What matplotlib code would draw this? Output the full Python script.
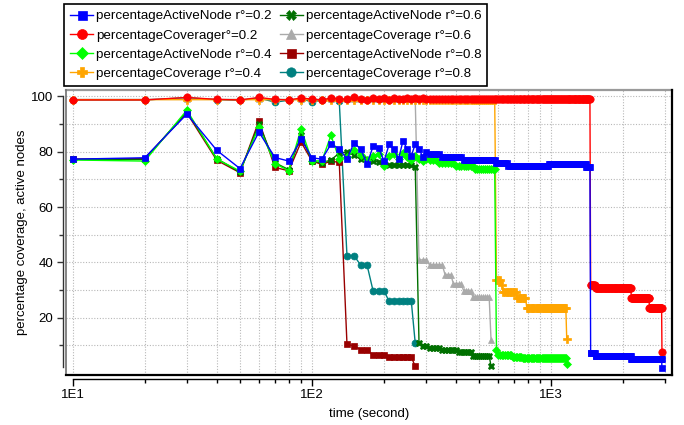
import matplotlib.pyplot as plt
import numpy as np
from matplotlib.ticker import FixedLocator, FuncFormatter, LogLocator, NullFormatter

plt.rcParams["font.family"] = ["Liberation Sans", "DejaVu Sans"]

STEP = 10  # the log is sampled every 10 s

# fluctuating phase: one value per 10 s, starting at t = 10 s
an02_early = [77.3, 77.8, 93.6, 80.5, 73.9, 87.1, 77.9, 76.6, 84.5, 77.8,
              77.3, 82.7, 81.1, 77.3, 83.3, 80.8, 75.5, 82.0, 81.3, 76.6,
              82.6, 80.9, 77.4, 83.9, 80.9, 78.5, 82.7, 81.1, 78.1, 79.9]
cov02_early = [98.7, 98.7, 99.6, 98.9, 98.7, 99.6, 98.9, 98.7, 99.4, 99.0,
               98.7, 99.4, 99.2, 98.9, 99.6, 99.1, 98.7, 99.4, 99.0, 99.3,
               98.8, 99.5, 99.2, 99.0, 99.4, 99.1, 99.3, 99.0, 99.4, 99.2]
an04_early = [77.0, 76.6, 95.0, 77.3, 73.0, 88.9, 75.7, 73.1, 88.3, 76.7,
              76.7, 85.9, 77.3, 78.0, 80.5, 78.7, 76.9, 78.6, 79.0, 75.0,
              78.5, 79.0, 77.5, 79.5, 78.0, 77.0, 78.5, 77.5, 76.5, 77.5]
an06_early = [77.2, 77.2, 94.5, 77.5, 72.6, 90.0, 76.0, 73.5, 86.0, 76.5,
              76.0, 77.0, 79.5, 79.9, 78.7, 77.2, 77.5, 76.6, 76.3, 75.7]
an08_early = [77.3, 77.5, 94.0, 76.9, 72.4, 91.1, 74.3, 73.1, 83.5, 76.6,
              75.4, 76.6, 76.1]
cov08_early = [98.7, 98.7, 99.5, 98.8, 98.6, 99.4, 97.9, 98.6, 99.1, 98.0,
               98.6, 99.0, 98.2]

# plateaus after that: (first time, last time, value)
an02_steps = [(310, 340, 79.3), (350, 420, 78.1), (430, 580, 76.9), (590, 650, 76.0),
              (660, 970, 74.8), (980, 1390, 75.5), (1400, 1450, 74.6),
              (1460, 1520, 7.1), (1530, 2150, 6.3), (2160, 2890, 5.1), (2900, 2900, 1.7)]
cov02_steps = [(310, 1450, 99.2), (1460, 1520, 31.8), (1530, 2150, 30.6),
               (2160, 2560, 27.0), (2570, 2890, 23.6), (2900, 2900, 7.7)]
an04_steps = [(310, 330, 76.9), (340, 390, 76.0), (400, 470, 74.9), (480, 580, 73.9),
              (590, 590, 8.2), (600, 680, 6.7), (690, 750, 5.8), (760, 1150, 5.3),
              (1160, 1160, 3.1)]
cov04_steps = [(10, 580, 98.8), (590, 610, 33.6), (620, 620, 31.9), (630, 710, 29.2),
               (720, 780, 27.3), (790, 1150, 23.5), (1160, 1160, 12.3)]
an06_steps = [(210, 260, 75.1), (270, 270, 74.5), (280, 280, 10.9), (290, 300, 9.7),
              (310, 340, 9.1), (350, 400, 8.4), (410, 460, 7.5), (470, 550, 6.3),
              (560, 560, 2.4)]
cov06_steps = [(10, 270, 98.9), (280, 300, 40.9), (310, 350, 39.1), (360, 380, 35.5),
               (390, 420, 32.3), (430, 460, 29.8), (470, 550, 27.5), (560, 560, 11.8)]
an08_steps = [(140, 140, 10.5), (150, 150, 9.7), (160, 170, 8.5), (180, 200, 6.4),
              (210, 260, 5.8), (270, 270, 2.4)]
cov08_steps = [(140, 150, 42.4), (160, 170, 38.9), (180, 200, 29.7), (210, 260, 25.9),
               (270, 270, 10.8)]

labels = ["percentageActiveNode r°=0.2", "percentageCoverager°=0.2",
          "percentageActiveNode r°=0.4", "percentageCoverage r°=0.4",
          "percentageActiveNode r°=0.6", "percentageCoverage r°=0.6",
          "percentageActiveNode r°=0.8", "percentageCoverage r°=0.8"]
colors = ["#0000ff", "#ff0000", "#00ff00", "#ffa500",
          "#007000", "#aaaaaa", "#990000", "#008080"]
markers = ["s", "o", "D", "P", "X", "^", "s", "o"]
msizes = [4.8, 5.3, 4.2, 5.3, 5.0, 5.0, 4.8, 5.0]


def expand(early, steps):
    t = [STEP * (i + 1) for i in range(len(early))]
    v = list(early)
    for a, b, val in steps:
        for tt in range(a, b + 1, STEP):
            t.append(tt)
            v.append(val)
    return t, v


series = [expand(an02_early, an02_steps), expand(cov02_early, cov02_steps),
          expand(an04_early, an04_steps), expand([], cov04_steps),
          expand(an06_early, an06_steps), expand([], cov06_steps),
          expand(an08_early, an08_steps), expand(cov08_early, cov08_steps)]

fig = plt.figure(figsize=(6.84, 4.25), dpi=100)
ax = fig.add_axes([65.7 / 684, 50 / 425, 606.6 / 684, 285.3 / 425])

handles = [None] * 8
for i in reversed(range(8)):
    t, v = series[i]
    (h,) = ax.plot(t, v, color=colors[i], marker=markers[i], markersize=msizes[i],
                   linewidth=1.0, markeredgewidth=0.5, label=labels[i], zorder=3 + (8 - i))
    handles[i] = h

ax.set_xscale("log")
ax.set_xlim(9.35, 3203)
ax.set_ylim(-0.7, 102.4)

ax.xaxis.set_major_locator(LogLocator(base=10))
ax.xaxis.set_minor_locator(LogLocator(base=10, subs=np.arange(2, 10)))
ax.xaxis.set_major_formatter(FuncFormatter(lambda x, p: f"1E{int(round(np.log10(x)))}"))
ax.xaxis.set_minor_formatter(NullFormatter())
ax.yaxis.set_major_locator(FixedLocator([20, 40, 60, 80, 100]))
ax.yaxis.set_minor_locator(FixedLocator([10, 30, 50, 70, 90]))

grid_kw = dict(color="#b8b8b8", linestyle=(0, (1, 1.5)), linewidth=0.8)
ax.grid(True, which="both", axis="both", **grid_kw)
ax.set_axisbelow(True)

# separate axis lines with ticks, offset from the plotting frame
for side in ["top", "right"]:
    ax.spines[side].set_visible(False)
ax.spines["left"].set_position(("outward", 1.8))
ax.spines["bottom"].set_position(("outward", 2.7))
ax.spines["left"].set_bounds(2.2, 100)
ax.spines["bottom"].set_bounds(10, 3000)
ax.spines["left"].set_color("#333333")
ax.spines["left"].set_linewidth(1.0)
ax.spines["bottom"].set_linewidth(1.0)
ax.tick_params(axis="y", which="major", length=4.5, width=1.0, pad=2.5,
               labelsize=9.5, color="#333333")
ax.tick_params(axis="y", which="minor", length=3.2, width=1.0, color="#333333")
ax.tick_params(axis="x", which="major", length=5.0, width=1.0, pad=2.5, labelsize=9.5)
ax.tick_params(axis="x", which="minor", length=3.0, width=1.0)

# plotting frame
frame = [((0, 1), (1, 1), "#9a9a9a", 1.6), ((0, 0), (0, 1), "#707070", 1.2),
         ((1, 1), (0, 1), "black", 1.6), ((0, 1), (0, 0), "black", 1.6)]
for xs, ys, c, lw in frame:
    ax.plot(xs, ys, transform=ax.transAxes, color=c, linewidth=lw,
            clip_on=False, zorder=20)

ax.set_xlabel("time (second)", fontsize=9.5, labelpad=5)
ax.set_ylabel("percentage coverage, active nodes", fontsize=9.5, labelpad=2)

leg = fig.legend(handles=handles, labels=labels, ncol=2, loc="upper left",
                 bbox_to_anchor=(64 / 684, 1 - 4 / 425), fontsize=9.6,
                 frameon=True, fancybox=False, framealpha=1, edgecolor="black",
                 handlelength=1.75, handletextpad=0.2, columnspacing=0.62,
                 labelspacing=0.52, borderpad=0.45, borderaxespad=0, markerscale=1.35)
leg.get_frame().set_linewidth(1.2)

fig.savefig("out.png", dpi=100)
